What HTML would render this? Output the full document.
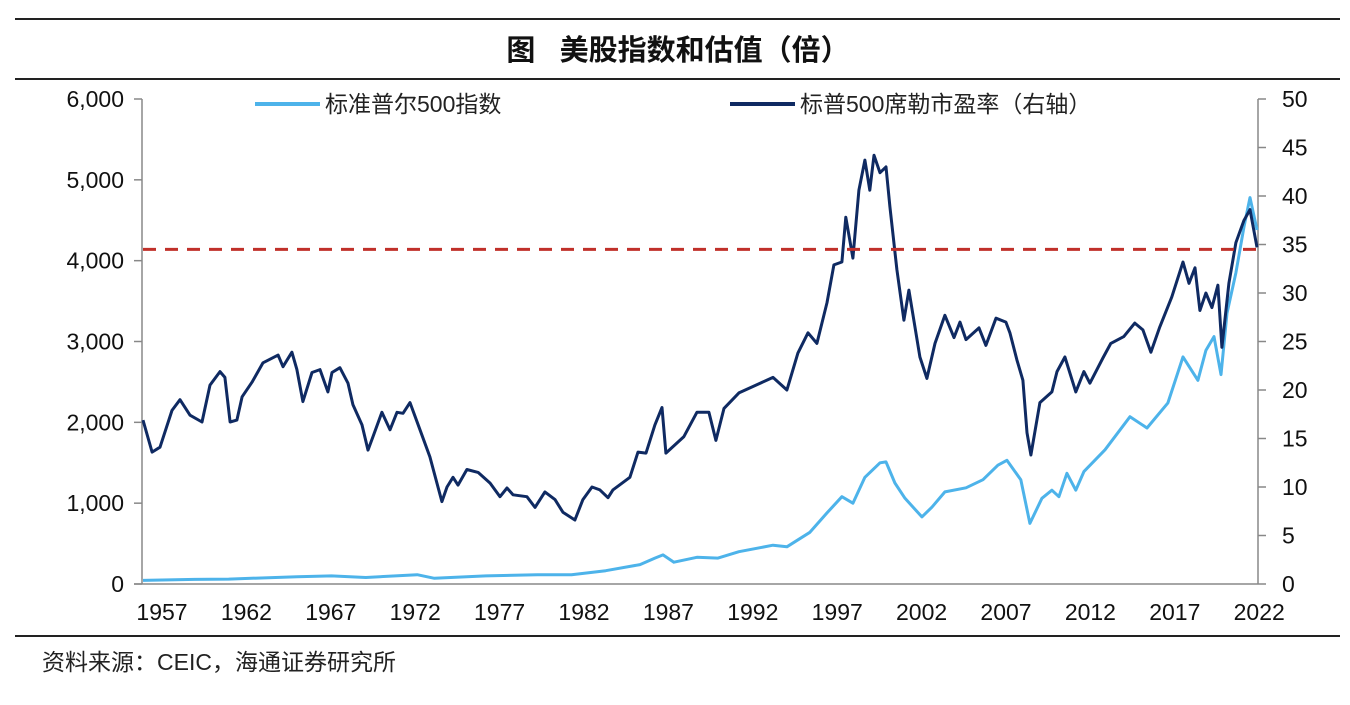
<!DOCTYPE html>
<html><head><meta charset="utf-8"><style>
body{margin:0;background:#fff;}
svg text{font-family:"Liberation Sans","Noto Sans CJK SC",sans-serif;}
</style></head><body>
<svg width="1350" height="700" xmlns="http://www.w3.org/2000/svg">
<g id="root"></g>
</svg>
<script>
const tickYears=[1957,1962,1967,1972,1977,1982,1987,1992,1997,2002,2007,2012,2017,2022];
const leftTicks=[0,1000,2000,3000,4000,5000,6000];
const rightTicks=[0,5,10,15,20,25,30,35,40,45,50];
const peYears=[1957.0,1957.53,1957.99,1958.69,1959.16,1959.74,1960.44,1960.91,1961.49,1961.78,1962.08,1962.48,1962.78,1963.36,1964.0,1964.88,1965.17,1965.69,1965.98,1966.33,1966.86,1967.33,1967.79,1968.03,1968.49,1968.96,1969.25,1969.78,1970.13,1970.42,1970.94,1971.41,1971.82,1972.17,1972.58,1973.16,1973.74,1974.44,1974.74,1975.09,1975.38,1975.9,1976.55,1977.25,1977.83,1978.24,1978.59,1979.4,1979.87,1980.45,1981.04,1981.5,1982.2,1982.67,1983.2,1983.66,1984.13,1984.42,1985.41,1985.88,1986.35,1986.87,1987.28,1987.51,1988.56,1989.32,1990.02,1990.43,1990.9,1991.77,1992.77,1993.76,1994.57,1995.21,1995.8,1996.32,1996.91,1997.31,1997.78,1998.01,1998.42,1998.77,1999.12,1999.41,1999.65,2000.0,2000.35,2000.58,2000.99,2001.4,2001.69,2002.33,2002.74,2003.21,2003.79,2004.32,2004.67,2005.02,2005.78,2006.18,2006.77,2007.35,2007.58,2007.99,2008.34,2008.58,2008.81,2009.33,2010.03,2010.33,2010.79,2011.43,2011.9,2012.25,2013.01,2013.47,2014.23,2014.87,2015.34,2015.81,2016.33,2017.03,2017.68,2018.03,2018.38,2018.67,2019.02,2019.37,2019.72,2019.95,2020.36,2020.77,2021.24,2021.59,2022.0];
const peValues=[16.9,13.6,14.1,17.9,19.0,17.4,16.7,20.5,21.9,21.3,16.7,16.9,19.3,20.8,22.8,23.6,22.4,23.9,22.1,18.8,21.8,22.1,19.8,21.8,22.3,20.7,18.5,16.4,13.8,15.2,17.7,15.9,17.7,17.6,18.7,15.9,13.1,8.5,10.0,11.0,10.2,11.8,11.5,10.4,9.0,9.9,9.2,9.0,7.9,9.5,8.7,7.4,6.6,8.7,10.0,9.7,8.9,9.7,11.0,13.6,13.5,16.4,18.2,13.5,15.2,17.7,17.7,14.8,18.1,19.7,20.5,21.3,20.0,23.8,25.9,24.8,29.0,32.9,33.2,37.8,33.6,40.6,43.7,40.6,44.2,42.4,43.0,38.9,32.4,27.2,30.3,23.4,21.2,24.8,27.7,25.4,27.0,25.2,26.4,24.6,27.4,27.0,25.9,23.1,21.0,15.6,13.3,18.7,19.8,21.9,23.4,19.8,21.9,20.7,23.3,24.8,25.5,26.9,26.2,23.9,26.5,29.6,33.2,31.0,32.6,28.2,30.0,28.5,30.8,24.4,31.0,35.2,37.5,38.6,34.7];
const spYears=[1957,1960,1962,1966,1968,1970,1973,1974,1977,1980,1982,1984,1986,1986.87,1987.34,1987.98,1989.32,1990.55,1991.77,1993.76,1994.57,1995.91,1996.91,1997.78,1998.42,1999.12,2000.0,2000.35,2000.87,2001.46,2002.45,2003.03,2003.79,2005.02,2006.01,2006.88,2007.41,2008.22,2008.75,2009.45,2010.03,2010.44,2010.91,2011.43,2011.9,2013.13,2014.59,2015.58,2016.8,2017.68,2018.55,2019.02,2019.49,2019.9,2020.25,2020.77,2021.24,2021.59,2022.0];
const spValues=[45,57,60,90,100,80,115,70,100,115,115,165,240,320,360,270,330,320,400,480,460,640,880,1080,1000,1320,1500,1510,1250,1060,830,950,1140,1190,1290,1470,1530,1290,750,1060,1160,1080,1370,1160,1390,1660,2070,1930,2240,2810,2520,2890,3060,2590,3350,3850,4420,4780,4380];
const peMedian=[34.5];

const X0=143,X1=1257,Y0=584,Y1=99;
const x=y=>X0+(y-1957)*(X1-X0)/65;
const yL=v=>Y0-v*(Y0-Y1)/6000;
const yR=v=>Y0-v*(Y0-Y1)/50;
const xLab=y=>162+(y-1957)*16.88;
const NS="http://www.w3.org/2000/svg";
const root=document.getElementById('root');
function mk(t,a,txt){const e=document.createElementNS(NS,t);for(const k in a)e.setAttribute(k,a[k]);if(txt!==undefined)e.textContent=txt;root.appendChild(e);return e;}
let e;
e=mk('line',{x1:15,y1:19,x2:1340,y2:19,stroke:'#222','stroke-width':2});


e=mk('line',{x1:15,y1:79,x2:1340,y2:79,stroke:'#222','stroke-width':2});


e=mk('line',{x1:15,y1:636,x2:1340,y2:636,stroke:'#222','stroke-width':2});


e=mk('text',{x:678,y:60,'text-anchor':'middle','font-size':29,'font-weight':'bold',fill:'#111'},'图\u00a0\u00a0\u00a0美股指数和估值（倍）');


e=mk('text',{x:42,y:670,'font-size':23,fill:'#222'},'资料来源：CEIC，海通证券研究所');


e=mk('line',{x1:X0-1,y1:Y1,x2:X0-1,y2:Y0,stroke:'#888','stroke-width':1.5});


e=mk('line',{x1:X1+1,y1:Y1,x2:X1+1,y2:Y0,stroke:'#888','stroke-width':1.5});


e=mk('line',{x1:134,y1:Y0,x2:X1+1,y2:Y0,stroke:'#888','stroke-width':1.5});


leftTicks.forEach(v=>{
  e=mk('line',{x1:134,y1:yL(v),x2:X0-1,y2:yL(v),stroke:'#888','stroke-width':1.5});
  
  
  e=mk('text',{x:124,y:yL(v)+8,'text-anchor':'end','font-size':23,fill:'#111'},v.toLocaleString('en-US'));
  
  
});
rightTicks.forEach(v=>{
  e=mk('line',{x1:X1+1,y1:yR(v),x2:X1+9,y2:yR(v),stroke:'#888','stroke-width':1.5});
  
  
  e=mk('text',{x:1282,y:yR(v)+8,'font-size':23,fill:'#111'},String(v));
  
  
});
tickYears.forEach(v=>{
  e=mk('text',{x:xLab(v),y:620,'text-anchor':'middle','font-size':23,fill:'#111'},String(v));
  
  
});
e=mk('path',{d:spYears.map((t,i)=>(i?'L':'M')+x(t).toFixed(1)+','+yL(spValues[i]).toFixed(1)).join(''),fill:'none',stroke:'#4db3ea','stroke-width':3,'stroke-linejoin':'round'});


e=mk('path',{d:peYears.map((t,i)=>(i?'L':'M')+x(t).toFixed(1)+','+yR(peValues[i]).toFixed(1)).join(''),fill:'none',stroke:'#0f2a62','stroke-width':3,'stroke-linejoin':'round'});


e=mk('line',{x1:X0,y1:yR(peMedian[0]),x2:X1,y2:yR(peMedian[0]),stroke:'#c0302a','stroke-width':3,'stroke-dasharray':'13,9'});


e=mk('line',{x1:255,y1:104,x2:320,y2:104,stroke:'#4db3ea','stroke-width':4});


e=mk('text',{x:325,y:112,'font-size':23,fill:'#222'},'标准普尔500指数');


e=mk('line',{x1:730,y1:104,x2:795,y2:104,stroke:'#0f2a62','stroke-width':4});


e=mk('text',{x:800,y:112,'font-size':23,fill:'#222'},'标普500席勒市盈率（右轴）');


</script>
</body></html>
